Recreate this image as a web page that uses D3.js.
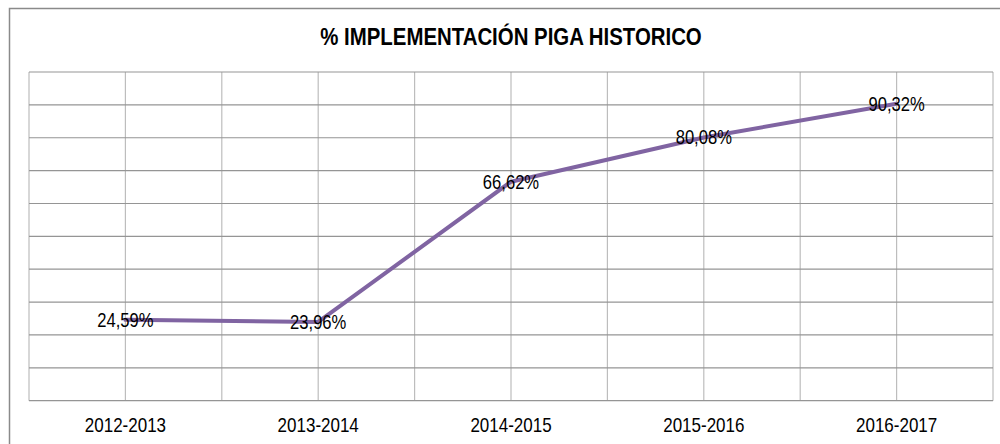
<!DOCTYPE html>
<html>
<head>
<meta charset="utf-8">
<script src="https://cdn.jsdelivr.net/npm/d3@7"></script>
<style>
  body { margin: 0; background: #fff; }
  svg { display: block; font-family: "Liberation Sans Narrow", "Arial Narrow", "Liberation Sans", sans-serif; }
</style>
</head>
<body>
<div id="chart"></div>
<script>
'use strict';

const title      = '% IMPLEMENTACIÓN PIGA HISTORICO'
const categories = ['2012-2013', '2013-2014', '2014-2015', '2015-2016', '2016-2017']
const values     = [24.59, 23.96, 66.62, 80.08, 90.32]
const yTicks     = [0, 10, 20, 30, 40, 50, 60, 70, 80, 90, 100]

const width  = 1000
const height = 444
const plot   = { left: 29, top: 72, right: 993, bottom: 400.7 }

// no narrow face installed, so squeeze the regular one horizontally
const narrow = 0.83

const fmt = (v) => v.toFixed(2).replace('.', ',') + '%'

const svg = d3.select('#chart')
  .append('svg')
  .attr('width',  width)
  .attr('height', height)

// outer chart frame (runs off the right / bottom edge)
svg.append('rect')
  .attr('x', 9.5)
  .attr('y', 8.5)
  .attr('width',  1100)
  .attr('height', 600)
  .attr('fill', 'none')
  .attr('stroke', '#8a8a8a')
  .attr('stroke-width', 1.5)

svg.append('text')
  .attr('transform', `translate(511,45) scale(0.85,1)`)
  .attr('text-anchor', 'middle')
  .attr('font-size', 24)
  .attr('font-weight', 'bold')
  .attr('fill', '#000')
  .text(title)

const x = d3.scaleBand()
  .domain(categories)
  .range([plot.left, plot.right])
  .padding(0)

const y = d3.scaleLinear()
  .domain([0, 100])
  .range([plot.bottom, plot.top])

const cx = (c) => x(c) + x.bandwidth() / 2

// vertical gridlines: category boundaries and centres
const vLines = []
categories.forEach((c) => { vLines.push(x(c)); vLines.push(cx(c)) })
vLines.push(plot.right)

svg.append('g')
  .selectAll('line')
  .data(vLines)
  .enter()
  .append('line')
    .attr('x1', (d) => d)
    .attr('x2', (d) => d)
    .attr('y1', plot.top)
    .attr('y2', plot.bottom)
    .attr('stroke', '#bdbdbd')
    .attr('stroke-width', 1.2)

svg.append('g')
  .selectAll('line')
  .data(yTicks)
  .enter()
  .append('line')
    .attr('x1', plot.left)
    .attr('x2', plot.right)
    .attr('y1', (d) => y(d))
    .attr('y2', (d) => y(d))
    .attr('stroke', '#959595')
    .attr('stroke-width', 1.2)

// category labels
const xAxis = svg.append('g')
  .attr('transform', `translate(0,${plot.bottom})`)
  .call(d3.axisBottom(x).tickSize(0).tickPadding(0))

xAxis.select('.domain').remove()
xAxis.selectAll('text')
  .attr('y', 31)
  .attr('dy', 0)
  .attr('transform', `scale(0.85,1)`)
  .attr('font-size', 20)
  .attr('font-family', null)
  .attr('fill', '#000')

const line = d3.line()
  .x((d, i) => cx(categories[i]))
  .y((d) => y(d))

svg.append('path')
  .datum(values)
  .attr('d', line)
  .attr('fill', 'none')
  .attr('stroke', '#8064a2')
  .attr('stroke-width', 4)
  .attr('stroke-linejoin', 'round')
  .attr('stroke-linecap', 'round')

svg.append('g')
  .selectAll('text')
  .data(values)
  .enter()
  .append('text')
    .attr('transform', (d, i) => `translate(${cx(categories[i])},${y(d) + 7}) scale(${narrow},1)`)
    .attr('text-anchor', 'middle')
    .attr('font-size', 20)
    .attr('fill', '#000')
    .text((d) => fmt(d))
</script>
</body>
</html>
